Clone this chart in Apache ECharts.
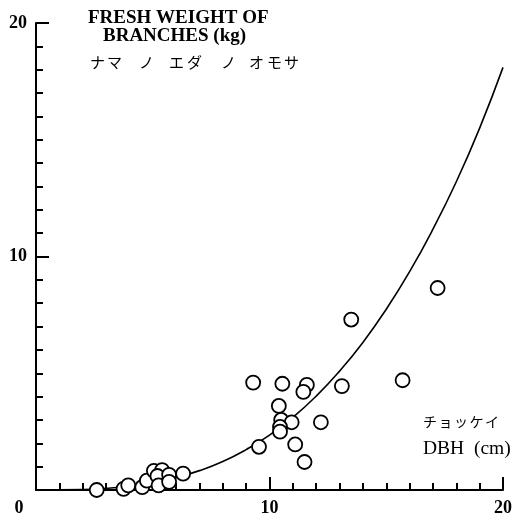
<!DOCTYPE html>
<html>
<head>
<meta charset="utf-8">
<script src="https://cdn.jsdelivr.net/npm/echarts@6/dist/echarts.min.js"></script>
<style>
  html, body {margin: 0; padding: 0; background: #fff;}
  #chart {width: 515px; height: 520px;}
</style>
</head>
<body>
<div id="chart"></div>
<script>
// DBH (cm) vs fresh weight of branches (kg)
const dbh = [2.6, 3.75, 3.95, 4.55, 4.75, 5.05, 5.4, 5.2, 5.25, 5.7, 5.7, 6.3,
  9.3, 10.55, 11.6, 11.45, 10.4, 10.5, 10.95, 10.45, 10.45, 12.2, 9.55, 11.1, 11.5,
  13.1, 13.5, 15.7, 17.2];
const weight = [0.0, 0.05, 0.2, 0.12, 0.4, 0.82, 0.85, 0.6, 0.2, 0.65, 0.35, 0.7,
  4.6, 4.55, 4.5, 4.2, 3.6, 3.0, 2.9, 2.7, 2.5, 2.9, 1.85, 1.95, 1.2,
  4.45, 7.3, 4.7, 8.65];

// the fitted curve, read at each cm
const curveX = [0, 2, 3, 4, 5, 6, 7, 8, 9, 10, 11, 12, 13, 14, 15, 16, 17, 18, 19, 20];
const curveY = [0, 0.02, 0.07, 0.16, 0.31, 0.53, 0.83, 1.22, 1.73, 2.35, 3.11, 4.02,
  5.09, 6.32, 7.74, 9.35, 11.17, 13.2, 15.5, 18.1];

const yTicks = [10, 20];
const xTicks = [0, 10, 20];
const minorTicks = [0, 1, 2, 3, 4, 5, 6, 7, 8, 9, 10, 11, 12, 13, 14, 15, 16, 17, 18, 19, 20];

const serif = '"Liberation Serif", "DejaVu Serif", serif';
const jp = '"Noto Sans CJK JP", sans-serif';

// main axis: long ticks + labels every 10
const mainAxis = (fmt, rich) => ({
  type: 'value', min: 0, max: 20, interval: 10,
  splitLine: {show: false},
  axisLine: {lineStyle: {color: '#000', width: 2}},
  axisTick: {inside: true, length: 13, lineStyle: {color: '#000', width: 2}},
  axisLabel: {
    margin: 9, color: '#000', fontFamily: serif, fontWeight: 'bold', fontSize: 18,
    showMinLabel: true, showMaxLabel: true, formatter: fmt, rich: rich
  }
});
// overlay axis: short ticks every 1
const minorAxis = pos => ({
  type: 'value', min: 0, max: 20, interval: 1, position: pos,
  splitLine: {show: false},
  axisLine: {show: false},
  axisLabel: {show: false},
  axisTick: {inside: true, length: 7, customValues: minorTicks,
    lineStyle: {color: '#000', width: 2}}
});

const glyph = (c, x, top, size) => ({type: 'text', left: x, top: top,
  style: {text: c, font: size + 'px ' + jp, fill: '#000'}});

const chart = echarts.init(document.getElementById('chart'));
chart.setOption({
  animation: false,
  backgroundColor: '#fff',
  grid: {left: 36, right: 9, top: 23, bottom: 30},
  xAxis: [
    mainAxis(
      v => xTicks.indexOf(v) === 0 ? '{z|' + v + '}' : String(v),
      {z: {padding: [0, 34, 0, 0], fontFamily: serif, fontWeight: 'bold', fontSize: 18, color: '#000'}}
    ),
    minorAxis('bottom')
  ],
  yAxis: [
    mainAxis(v => yTicks.indexOf(v) >= 0 ? String(v) : ''),
    minorAxis('left')
  ],
  graphic: [
    {type: 'text', left: 88, top: 9, style: {text: 'FRESH WEIGHT OF', font: 'bold 19px ' + serif, fill: '#000'}},
    {type: 'text', left: 103, top: 27, style: {text: 'BRANCHES (kg)', font: 'bold 19px ' + serif, fill: '#000'}},
    glyph('ナ', 90, 55, 15), glyph('マ', 107, 55, 15),
    glyph('ノ', 139, 55, 15),
    glyph('エ', 169, 55, 15), glyph('ダ', 187, 55, 15),
    glyph('ノ', 221, 55, 15),
    glyph('オ', 249, 55, 15), glyph('モ', 267, 55, 15), glyph('サ', 284, 55, 15),
    glyph('チ', 423, 415, 14), glyph('ョ', 438.5, 415, 14), glyph('ッ', 454, 415, 14),
    glyph('ケ', 469.5, 415, 14), glyph('イ', 485, 415, 14),
    {type: 'text', left: 423, top: 439, style: {text: 'DBH  (cm)', font: '19.5px ' + serif, fill: '#000'}}
  ],
  series: [
    {
      type: 'line', smooth: true, showSymbol: false, z: 1,
      data: curveX.map((x, i) => [x, curveY[i]]),
      lineStyle: {color: '#000', width: 1.6}
    },
    {
      type: 'scatter', symbol: 'circle', symbolSize: 14, z: 3,
      data: dbh.map((x, i) => [x, weight[i]]),
      itemStyle: {color: '#fff', borderColor: '#000', borderWidth: 1.8, opacity: 1}
    }
  ]
});
</script>
</body>
</html>
